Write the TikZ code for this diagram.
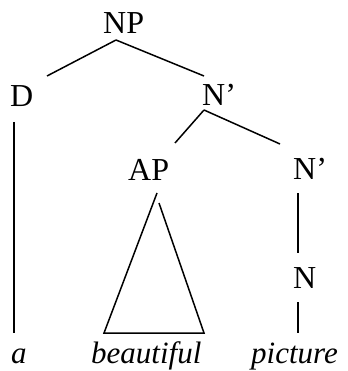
\documentclass[tikz,border=0pt]{standalone}
\usepackage{fontspec}
\setmainfont{Liberation Serif}
\begin{document}
\begin{tikzpicture}[x=1pt,y=-1pt,
  lbl/.style={inner sep=0pt, anchor=base west, font=\fontsize{32}{38}\selectfont},
  word/.style={lbl, font=\fontsize{31}{37}\selectfont\itshape},
  edge/.style={line width=1.5pt}]
\useasboundingbox (0,0) rectangle (347,371);
% labels
\node[lbl] (np) at (103,34) {NP};
\node[lbl] (d) at (10,107) {D};
\node[lbl] (nb1) at (202,106) {N’};
\node[lbl] (ap) at (128,180) {AP};
\node[lbl] (nb2) at (293,179) {N’};
\node[lbl] (n) at (293,288) {N};
\node[word] (a) at (11,363) {a};
\node[word] (beautiful) at (91,363) {beautiful};
\node[word] (picture) at (251,363) {picture};
% connector end points
\coordinate (npB) at (116,40);
\coordinate (dT) at (47,76);
\coordinate (nb1T) at (204,76);
\coordinate (nb1B) at (204,110);
\coordinate (apT) at (175,143);
\coordinate (nb2T) at (280,144);
\coordinate (dB) at (14,122);
\coordinate (aT) at (14,333);
\coordinate (triA) at (157,193);
\coordinate (triB) at (159,203);
\coordinate (triL) at (104,333);
\coordinate (triR) at (204,333);
\coordinate (nb2B) at (298,193);
\coordinate (nT) at (298,253);
\coordinate (nB) at (298,302);
\coordinate (picT) at (298,333);
% connectors
\draw[edge] (npB) -- (dT);
\draw[edge] (npB) -- (nb1T);
\draw[edge] (nb1B) -- (apT);
\draw[edge] (nb1B) -- (nb2T);
\draw[edge] (dB) -- (aT);
\draw[edge] (triA) -- (triL) -- (triR) -- (triB);
\draw[edge] (nb2B) -- (nT);
\draw[edge] (nB) -- (picT);
\end{tikzpicture}
\end{document}
